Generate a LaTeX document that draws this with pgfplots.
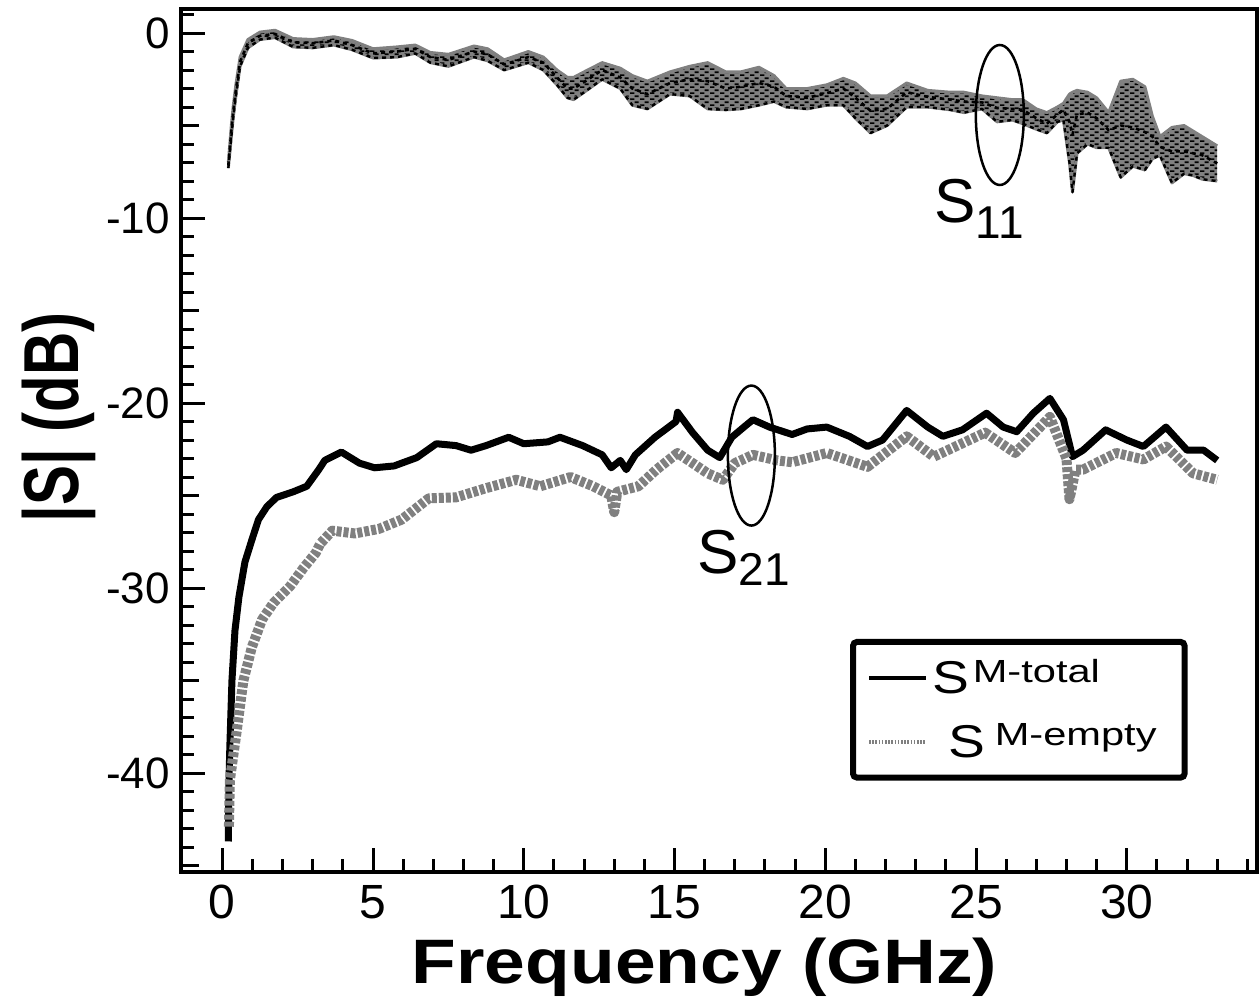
\documentclass[border=0pt]{standalone}
\usepackage{fontspec}
\setmainfont{Liberation Sans}
\usepackage{pgfplots}
\usepackage{pgfplotstable}
\pgfplotsset{compat=1.18}
\usepgfplotslibrary{fillbetween}
\usetikzlibrary{patterns}

\pgfdeclarepatternformonly{hdash}{\pgfpointorigin}{\pgfpoint{5pt}{3.2pt}}{\pgfpoint{5pt}{3.2pt}}{%
  \pgfpathrectangle{\pgfpoint{0pt}{0pt}}{\pgfpoint{2.4pt}{0.9pt}}%
  \pgfpathrectangle{\pgfpoint{2.6pt}{1.6pt}}{\pgfpoint{2.2pt}{0.9pt}}%
  \pgfusepath{fill}}

\pgfplotstableread{
f up lo c
0.20 -7.0 -7.3 -7.15
0.30 -5.0 -5.6 -5.3
0.36 -4.0 -4.6 -4.3
0.45 -2.8 -3.4 -3.1
0.59 -1.3 -1.8 -1.55
0.85 -0.35 -0.8 -0.55
1.25 0.05 -0.35 -0.15
1.75 0.15 -0.25 -0.05
2.35 -0.3 -0.75 -0.5
3.0 -0.35 -0.8 -0.55
3.7 -0.2 -0.65 -0.4
4.3 -0.4 -0.9 -0.65
5.0 -0.85 -1.35 -1.1
5.8 -0.75 -1.3 -1.0
6.4 -0.65 -1.1 -0.85
6.9 -1.05 -1.6 -1.3
7.5 -1.15 -1.8 -1.45
8.35 -0.7 -1.3 -1.0
8.8 -0.85 -1.5 -1.15
9.35 -1.45 -2.0 -1.7
10.15 -1.0 -1.6 -1.3
10.65 -1.3 -2.0 -1.6
11.1 -2.0 -2.8 -2.4
11.45 -2.4 -3.5 -3.0
11.65 -2.4 -3.6 -3.0
12.0 -2.1 -3.2 -2.65
12.6 -1.6 -2.5 -2.0
13.2 -1.9 -3.0 -2.4
13.6 -2.3 -3.9 -3.0
14.1 -2.6 -4.1 -3.3
14.85 -2.1 -3.3 -2.7
15.5 -1.8 -3.4 -2.5
16.1 -1.6 -4.1 -2.6
16.7 -2.1 -4.15 -3.0
17.2 -2.1 -4.1 -2.9
17.8 -1.85 -3.9 -2.7
18.3 -2.3 -3.7 -2.9
18.7 -3.0 -4.0 -3.4
19.4 -3.0 -4.1 -3.5
20.05 -2.8 -3.9 -3.25
20.6 -2.45 -3.9 -3.0
21.0 -2.7 -4.6 -3.5
21.5 -3.4 -5.4 -4.2
22.05 -3.4 -5.0 -4.1
22.7 -2.7 -4.0 -3.2
23.4 -3.1 -4.0 -3.45
24.15 -3.2 -4.15 -3.6
24.6 -3.2 -4.3 -3.7
25.2 -3.4 -4.1 -3.75
25.7 -3.5 -4.8 -4.05
26.2 -3.6 -4.7 -4.1
26.55 -3.6 -4.9 -4.15
27.0 -4.1 -5.2 -4.6
27.35 -4.3 -5.4 -4.9
27.7 -4.0 -4.8 -4.4
27.9 -3.8 -4.7 -4.15
28.1 -3.3 -7.0 -4.8
28.2 -3.2 -8.6 -5.5
28.35 -3.1 -6.5 -4.4
28.7 -3.2 -6.0 -4.3
29.0 -3.5 -6.2 -4.6
29.4 -4.3 -6.2 -5.25
29.8 -2.6 -7.8 -5.0
30.2 -2.5 -7.2 -5.1
30.6 -2.9 -7.4 -5.35
30.85 -4.5 -6.8 -5.6
31.1 -5.6 -6.6 -6.15
31.5 -5.1 -8.1 -6.4
31.9 -5.0 -7.6 -6.4
32.2 -5.3 -7.7 -6.5
32.5 -5.6 -7.9 -6.6
33.0 -6.1 -8.0 -7.05
}\sonetable

\pgfplotstableread{
f db
0.20 -43.7
0.22 -40.5
0.25 -38.6
0.32 -35.0
0.42 -32.3
0.55 -30.5
0.75 -28.6
0.98 -27.4
1.2 -26.3
1.48 -25.6
1.8 -25.1
2.35 -24.8
2.8 -24.5
3.2 -23.6
3.4 -23.1
3.95 -22.65
4.55 -23.25
5.05 -23.5
5.7 -23.4
6.45 -22.95
7.1 -22.2
7.75 -22.3
8.25 -22.55
8.75 -22.3
9.5 -21.85
10.0 -22.2
10.8 -22.1
11.2 -21.85
11.95 -22.3
12.6 -22.8
12.9 -23.5
13.2 -23.1
13.4 -23.6
13.7 -22.8
14.35 -21.85
15.05 -21.0
15.1 -20.5
15.6 -21.6
16.1 -22.55
16.5 -22.95
16.9 -21.85
17.3 -21.3
17.6 -20.9
18.15 -21.3
18.9 -21.7
19.4 -21.4
20.05 -21.3
20.8 -21.8
21.4 -22.35
21.9 -22.0
22.7 -20.4
23.4 -21.3
23.9 -21.8
24.55 -21.45
25.35 -20.55
25.9 -21.3
26.35 -21.55
26.9 -20.55
27.45 -19.75
27.9 -20.9
28.2 -22.9
28.55 -22.55
29.3 -21.45
30.0 -22.0
30.55 -22.35
31.3 -21.3
32.0 -22.55
32.55 -22.55
33.0 -23.1
}\stotal

\pgfplotstableread{
f db
0.22 -42.9
0.25 -40.4
0.48 -37.7
0.7 -35.0
0.98 -33.2
1.32 -31.7
1.7 -30.8
2.25 -29.9
2.7 -28.9
3.1 -28.1
3.25 -27.6
3.65 -26.9
4.4 -27.05
5.2 -26.8
5.95 -26.3
6.85 -25.15
7.75 -25.1
8.75 -24.6
9.75 -24.15
10.55 -24.5
11.55 -24.0
12.3 -24.5
12.9 -25.0
13.0 -25.9
13.1 -24.8
13.8 -24.5
14.4 -23.6
15.1 -22.7
15.6 -23.25
16.1 -23.8
16.6 -24.15
17.0 -23.25
17.6 -22.8
18.4 -23.1
18.9 -23.2
20.05 -22.7
21.4 -23.45
22.7 -21.8
23.6 -22.9
25.3 -21.6
26.3 -22.7
27.45 -20.75
28.0 -23.0
28.1 -25.2
28.3 -23.6
28.55 -23.6
29.65 -22.7
30.55 -23.05
31.3 -22.35
32.2 -23.8
33.0 -24.15
}\sempty

\begin{document}
\begin{tikzpicture}
\begin{axis}[
  name=ax, scale only axis, width=538pt, height=431.5pt,
  xmin=-1.37, xmax=34.32, ymin=-45.35, ymax=1.3,
  axis line style={line width=1.7pt},
  xtick={0,5,...,30}, minor xtick={0,1,...,34},
  ytick={-40,-30,...,0}, minor ytick={-45,-44,...,1},
  extra y ticks={-45,-35,-25,-15,-5}, extra y tick labels={},
  extra y tick style={major tick length=9pt},
  tick align=inside, xtick pos=left, ytick pos=left,
  major tick length=12pt, minor tick length=6.5pt,
  every tick/.append style={line width=1.5pt, black},
  /pgf/number format/assume math mode=true,
  xticklabel style={font=\fontsize{24}{24}\selectfont, inner sep=0pt, yshift=-6.5pt},
  yticklabel style={font=\fontsize{22}{22}\selectfont, inner sep=0pt, xshift=-5.5pt},
  xlabel={\scalebox{1.165}[1]{\bfseries Frequency (GHz)}},
  xlabel style={font=\fontsize{31.4}{31.4}\selectfont, at={([yshift=-55.5pt]axis description cs:0.4865,0)}, anchor=base, inner sep=0pt},
  ylabel={\scalebox{1}[1.3]{\bfseries |S| (dB)}},
  ylabel style={font=\fontsize{30}{30}\selectfont, at={([xshift=-51pt]axis description cs:0,0.5267)}, anchor=base, inner sep=0pt},
  legend style={at={(axis cs:20.82,-32.75)}, anchor=north west, draw=black, line width=3pt, rounded corners=2pt, fill=white,
    inner xsep=7pt, inner ysep=6.5pt, row sep=9.5pt, font=\fontsize{23}{23}\selectfont,
    /tikz/every even column/.append style={column sep=4pt}},
  legend cell align=left,
  legend image code/.code={\draw[#1] (0pt,0pt) -- (28.5pt,0pt);},
]
% S11 band (total and empty overlap)
\addplot[name path=up, draw=gray, line width=1.5pt, line join=round, forget plot] table[x=f,y=up]{\sonetable};
\addplot[name path=lo, draw=gray, line width=1.5pt, line join=round, forget plot] table[x=f,y=lo]{\sonetable};
\addplot[fill=gray, draw=none, forget plot] fill between[of=up and lo];
\addplot[pattern=hdash, pattern color=black, draw=none, forget plot] fill between[of=up and lo];
\addplot[black, line width=1.3pt, line join=round, dash pattern=on 2pt off 2pt, forget plot] table[x=f,y=c]{\sonetable};
\addplot[black, line width=1.2pt, line join=round, dash pattern=on 2pt off 2pt, forget plot] table[x=f,y=lo]{\sonetable};
% S21
\addplot[black, line width=3.5pt, line join=round, forget plot] table[x=f,y=db]{\stotal};
\addplot[gray, line width=5pt, line join=round, dash pattern=on 2.5pt off 1pt, forget plot] table[x=f,y=db]{\sempty};

\addlegendimage{black, line width=2pt}
\addlegendentry{\scalebox{1.2}[1]{S}\hspace{2pt}\raisebox{5.75pt}{\fontsize{16}{16}\selectfont\scalebox{1.3}[1]{M-total}}}
\addlegendimage{gray, line width=2pt, dash pattern=on 0.8pt off 0.8pt}
\addlegendentry{\hspace{8pt}\scalebox{1.2}[1]{S}\hspace{5pt}\raisebox{6pt}{\fontsize{16}{16}\selectfont\scalebox{1.3}[1]{M-empty}}\kern5pt\mbox{}}

% annotations
\draw[line width=1.25pt] (axis cs:25.79,-4.43) ellipse [x radius=12pt, y radius=35pt];
\draw[line width=1.25pt] (axis cs:17.55,-22.84) ellipse [x radius=11.75pt, y radius=35pt];
\node[anchor=base west, inner sep=0pt] at (axis cs:23.61,-10.22)
  {\fontsize{31}{31}\selectfont S\raisebox{-8pt}{\fontsize{23}{23}\selectfont 11}};
\node[anchor=base west, inner sep=0pt] at (axis cs:15.74,-29.19)
  {\fontsize{31}{31}\selectfont S\raisebox{-6pt}{\fontsize{23}{23}\selectfont 21}};
\end{axis}
\pgfresetboundingbox
\path ([shift={(-90.5pt,-65pt)}]ax.south west) rectangle ([shift={(1pt,4.5pt)}]ax.north east);
\end{tikzpicture}
\end{document}
